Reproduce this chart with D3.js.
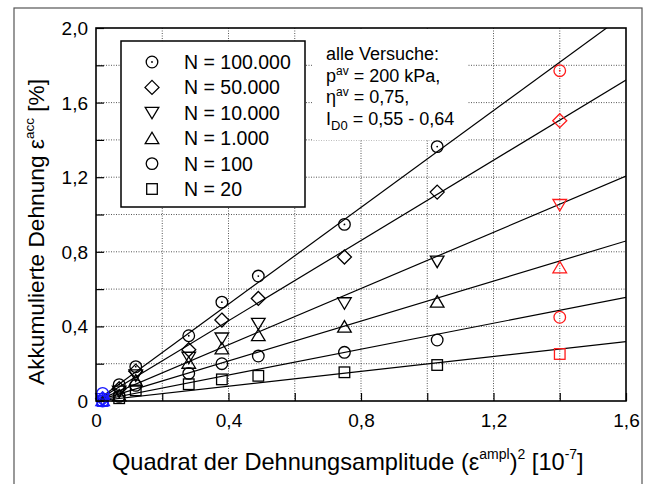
<!DOCTYPE html>
<html><head><meta charset="utf-8">
<script src="https://cdn.jsdelivr.net/npm/d3@7"></script>
<style>
html,body{margin:0;padding:0;background:#fff;}
svg{display:block;font-family:"Liberation Sans",Arial,Helvetica,sans-serif;}
</style></head>
<body>
<svg id="chart" width="654" height="484"></svg>
<script>
// ---- data ----
const xVals = [0.02, 0.07, 0.12, 0.28, 0.38, 0.49, 0.75, 1.03, 1.40];
const seriesNames = ["N = 100.000", "N = 50.000", "N = 10.000", "N = 1.000", "N = 100", "N = 20"];
const seriesSymbols = ["dotcircle", "diamond", "triDown", "triUp", "circle", "square"];
const y100000 = [0.041, 0.088, 0.184, 0.350, 0.530, 0.670, 0.947, 1.364, 1.771];
const y50000  = [0.012, 0.066, 0.160, 0.275, 0.434, 0.550, 0.772, 1.120, 1.503];
const y10000  = [0.010, 0.050, 0.137, 0.232, 0.335, 0.414, 0.524, 0.747, 1.051];
const y1000   = [0.005, 0.030, 0.110, 0.205, 0.282, 0.353, 0.399, 0.533, 0.717];
const y100    = [0.000, 0.025, 0.084, 0.148, 0.200, 0.241, 0.261, 0.327, 0.449];
const y20     = [0.000, 0.015, 0.057, 0.090, 0.116, 0.135, 0.154, 0.193, 0.252];
const seriesValues = [y100000, y50000, y10000, y1000, y100, y20];
// fitted lines: value at x = 1.6 (lines start at origin)
const fitX = [0, 1.6];
const fitEndY = [2.076, 1.721, 1.206, 0.858, 0.556, 0.318];
const gridSteps = [0.2, 0.4, 0.6, 0.8, 1.0, 1.2, 1.4, 1.6, 1.8];
const tickSteps = [0, 0.2, 0.4, 0.6, 0.8, 1.0, 1.2, 1.4, 1.6, 1.8, 2.0];
const xTickLabels = {"0": "0", "0.4": "0,4", "0.8": "0,8", "1.2": "1,2", "1.6": "1,6"};
const yTickLabels = {"0": "0", "0.4": "0,4", "0.8": "0,8", "1.2": "1,2", "1.6": "1,6", "2": "2,0"};
const pointColor = i => i === 0 ? "#1a1aff" : (i === xVals.length - 1 ? "#ff1a1a" : "#000");

// ---- layout ----
const svg = d3.select("#chart");
const L = 96, R = 626, T = 28, B = 401;
const x = d3.scaleLinear().domain([0, 1.6]).range([L, R]);
const y = d3.scaleLinear().domain([0, 2.0]).range([B, T]);

// outer frame
svg.append("rect").attr("x", 14).attr("y", 8).attr("width", 628).attr("height", 490)
  .attr("fill", "none").attr("stroke", "#555").attr("stroke-width", 1.2);

svg.append("defs").append("clipPath").attr("id", "plotclip")
  .append("rect").attr("x", L).attr("y", T).attr("width", R - L).attr("height", B - T);

// grid
const grid = svg.append("g").attr("stroke", "#444").attr("stroke-width", 0.9).attr("stroke-dasharray", "1,1.5");
grid.selectAll(".gx").data(gridSteps.filter(v => v < 1.6)).join("line")
  .attr("x1", d => x(d)).attr("x2", d => x(d)).attr("y1", T).attr("y2", B);
grid.selectAll(".gy").data(gridSteps).join("line")
  .attr("y1", d => y(d)).attr("y2", d => y(d)).attr("x1", L).attr("x2", R);

// white box behind annotation text
svg.append("rect").attr("x", 313).attr("y", T + 1).attr("width", 154).attr("height", 111).attr("fill", "#fff");

// legend box
svg.append("rect").attr("x", 121).attr("y", 41).attr("width", 184).attr("height", 166)
  .attr("fill", "#fff").attr("stroke", "#000").attr("stroke-width", 1.5);

// fitted lines
const lineGen = d3.line().x(d => x(d[0])).y(d => y(d[1]));
svg.append("g").attr("clip-path", "url(#plotclip)").selectAll("path").data(fitEndY).join("path")
  .attr("d", v => lineGen(fitX.map((xx, i) => [xx, i === 0 ? 0 : v])))
  .attr("fill", "none").attr("stroke", "#000").attr("stroke-width", 1.2);

// markers
function drawSymbol(g, type, color) {
  const sw = 1.3;
  if (type === "circle" || type === "dotcircle") {
    g.append("circle").attr("r", 5.8).attr("fill", "none").attr("stroke", color).attr("stroke-width", sw);
    if (type === "dotcircle") g.append("circle").attr("r", 0.9).attr("fill", color);
  } else if (type === "diamond") {
    g.append("path").attr("d", "M0,-7L7,0L0,7L-7,0Z").attr("fill", "none").attr("stroke", color).attr("stroke-width", sw);
  } else if (type === "triDown") {
    g.append("path").attr("d", "M-6.8,-5.5L6.8,-5.5L0,6Z").attr("fill", "none").attr("stroke", color).attr("stroke-width", sw);
  } else if (type === "triUp") {
    g.append("path").attr("d", "M-6.8,5.5L6.8,5.5L0,-6Z").attr("fill", "none").attr("stroke", color).attr("stroke-width", sw);
  } else if (type === "square") {
    g.append("rect").attr("x", -5.3).attr("y", -5.3).attr("width", 10.6).attr("height", 10.6)
      .attr("fill", "none").attr("stroke", color).attr("stroke-width", sw);
  }
}
const marks = svg.append("g");
seriesValues.forEach((vals, s) => {
  vals.forEach((v, i) => {
    const g = marks.append("g").attr("transform", `translate(${x(xVals[i])},${y(v)})`);
    drawSymbol(g, seriesSymbols[s], pointColor(i));
  });
});

// axes
const fmtKey = d => String(+d.toFixed(1));
const xAxis = d3.axisBottom(x).tickValues(tickSteps.filter(v => v <= 1.6))
  .tickSizeInner(-8).tickSizeOuter(0).tickPadding(12.5)
  .tickFormat(d => xTickLabels[fmtKey(d)] || "");
const yAxis = d3.axisLeft(y).tickValues(tickSteps)
  .tickSizeInner(-8).tickSizeOuter(0).tickPadding(8)
  .tickFormat(d => yTickLabels[fmtKey(d)] || "");
const gx = svg.append("g").attr("transform", `translate(0,${B})`).call(xAxis);
const gy = svg.append("g").attr("transform", `translate(${L},0)`).call(yAxis);
[gx, gy].forEach(g => {
  g.select(".domain").remove();
  g.selectAll(".tick line").attr("stroke", "#000").attr("stroke-width", 1.2);
  g.selectAll(".tick text").attr("font-size", 19).attr("fill", "#000")
    .attr("font-family", "Liberation Sans, Arial, sans-serif");
});
gy.selectAll(".tick text").attr("dy", "0.34em");

// plot frame
svg.append("rect").attr("x", L).attr("y", T).attr("width", R - L).attr("height", B - T)
  .attr("fill", "none").attr("stroke", "#000").attr("stroke-width", 1.6);

// legend content
const leg = svg.append("g");
seriesNames.forEach((name, i) => {
  const cy = 62 + i * 25.4;
  const g = leg.append("g").attr("transform", `translate(152,${cy})`);
  drawSymbol(g, seriesSymbols[i], "#000");
  leg.append("text").attr("x", 184).attr("y", cy + 7).attr("font-size", 19.5).text(name);
});

// annotation
const ann = svg.append("g").attr("font-size", 18);
ann.append("text").attr("x", 326).attr("y", 60).text("alle Versuche:");
const t2 = ann.append("text").attr("x", 326).attr("y", 81.7);
t2.append("tspan").text("p");
t2.append("tspan").attr("dy", -7).attr("font-size", 12).text("av");
t2.append("tspan").attr("dy", 7).text(" = 200 kPa,");
const t3 = ann.append("text").attr("x", 326).attr("y", 103.3);
t3.append("tspan").text("η");
t3.append("tspan").attr("dy", -7).attr("font-size", 12).text("av");
t3.append("tspan").attr("dy", 7).text(" = 0,75,");
const t4 = ann.append("text").attr("x", 326).attr("y", 125);
t4.append("tspan").text("I");
t4.append("tspan").attr("dy", 5).attr("font-size", 13).text("D0");
t4.append("tspan").attr("dy", -5).text(" = 0,55 - 0,64");

// axis titles
const xt = svg.append("text").attr("x", 112).attr("y", 470).attr("font-size", 23.6);
xt.append("tspan").text("Quadrat der Dehnungsamplitude (ε");
xt.append("tspan").attr("dy", -11).attr("font-size", 14).text("ampl");
xt.append("tspan").attr("dy", 11).text(")");
xt.append("tspan").attr("dy", -11).attr("font-size", 14).text("2");
xt.append("tspan").attr("dy", 11).text(" [10");
xt.append("tspan").attr("dy", -11).attr("font-size", 14).text("-7");
xt.append("tspan").attr("dy", 11).text("]");

const yt = svg.append("text").attr("transform", "translate(44,385) rotate(-90)").attr("font-size", 22.7);
yt.append("tspan").text("Akkumulierte Dehnung ε");
yt.append("tspan").attr("dy", -10).attr("font-size", 13.5).text("acc");
yt.append("tspan").attr("dy", 10).text(" [%]");
</script>
</body></html>
